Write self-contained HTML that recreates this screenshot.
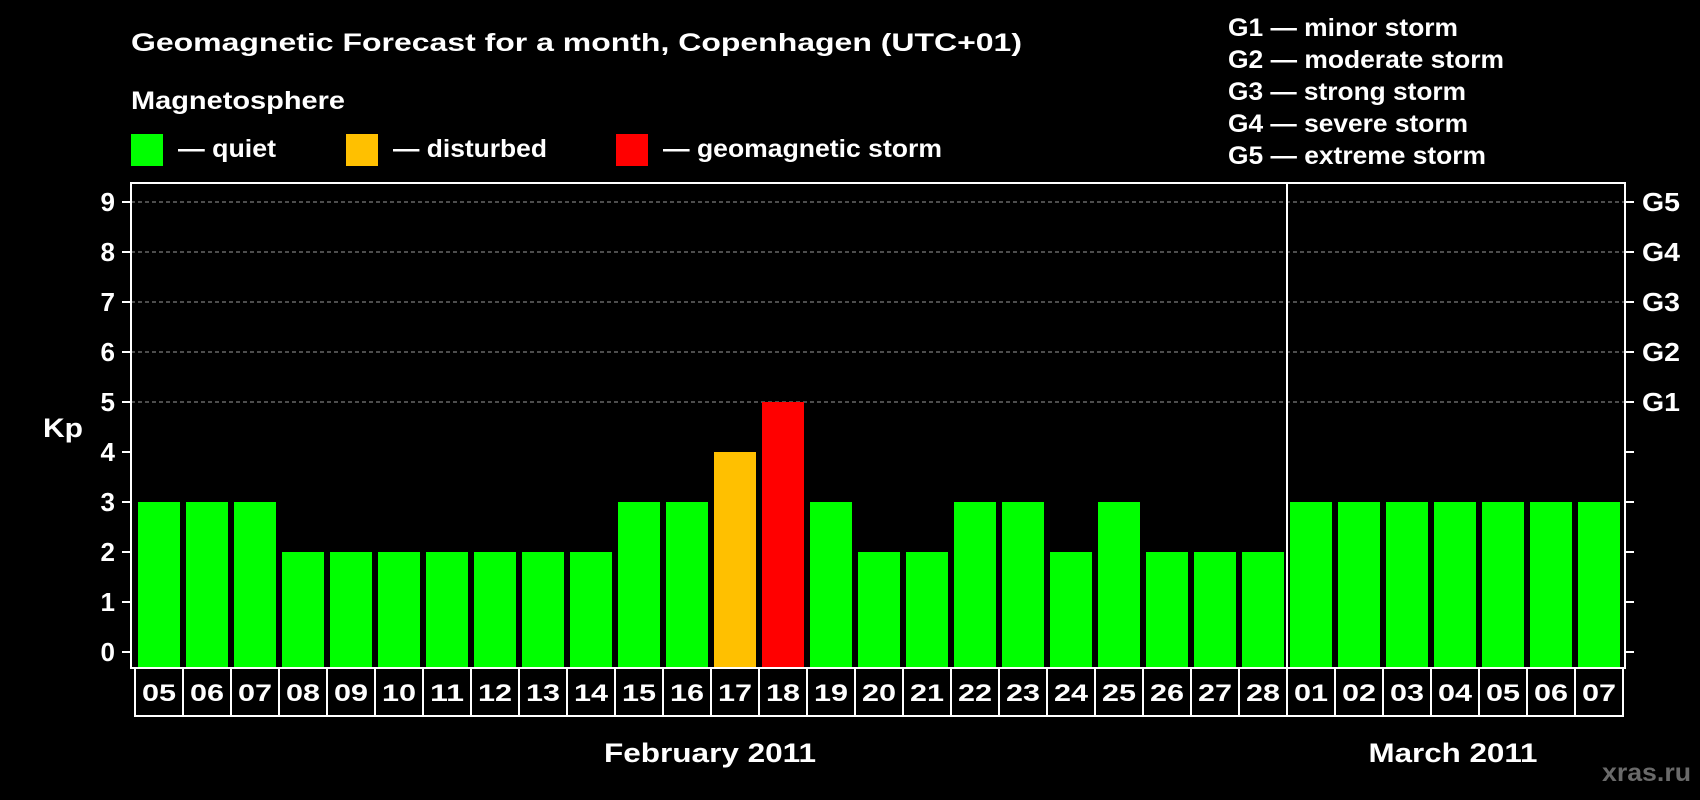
<!DOCTYPE html>
<html><head><meta charset="utf-8"><style>
html,body{margin:0;padding:0;background:#000;}
svg{display:block;font-family:"Liberation Sans",Arial,sans-serif;font-weight:bold;}
</style></head><body>
<svg id="chart" width="1700" height="800" viewBox="0 0 1700 800">
<rect x="0" y="0" width="1700" height="800" fill="#000"/>
<text x="131" y="51" fill="#fff" font-size="25" textLength="891" lengthAdjust="spacingAndGlyphs">Geomagnetic Forecast for a month, Copenhagen (UTC+01)</text>
<text x="131" y="109" fill="#fff" font-size="25" textLength="214" lengthAdjust="spacingAndGlyphs">Magnetosphere</text>
<g><rect x="131" y="134" width="32" height="32" fill="#00ff00"/><text x="178" y="157" fill="#fff" font-size="25" textLength="98" lengthAdjust="spacingAndGlyphs">— quiet</text></g>
<g><rect x="346" y="134" width="32" height="32" fill="#ffc000"/><text x="393" y="157" fill="#fff" font-size="25" textLength="154" lengthAdjust="spacingAndGlyphs">— disturbed</text></g>
<g><rect x="616" y="134" width="32" height="32" fill="#ff0000"/><text x="663" y="157" fill="#fff" font-size="25" textLength="279" lengthAdjust="spacingAndGlyphs">— geomagnetic storm</text></g>
<g fill="#fff" font-size="25">
<text x="1228" y="36" textLength="230" lengthAdjust="spacingAndGlyphs">G1 — minor storm</text>
<text x="1228" y="68" textLength="276" lengthAdjust="spacingAndGlyphs">G2 — moderate storm</text>
<text x="1228" y="100" textLength="238" lengthAdjust="spacingAndGlyphs">G3 — strong storm</text>
<text x="1228" y="132" textLength="240" lengthAdjust="spacingAndGlyphs">G4 — severe storm</text>
<text x="1228" y="164" textLength="258" lengthAdjust="spacingAndGlyphs">G5 — extreme storm</text>
</g>
<text x="43" y="437" fill="#fff" font-size="27" textLength="40" lengthAdjust="spacingAndGlyphs">Kp</text>
<g id="grid"></g><g id="bars"></g><g id="axes"></g>
<text x="710" y="762" fill="#fff" font-size="27" text-anchor="middle" textLength="212" lengthAdjust="spacingAndGlyphs">February 2011</text>
<text x="1453" y="762" fill="#fff" font-size="27" text-anchor="middle" textLength="169" lengthAdjust="spacingAndGlyphs">March 2011</text>
<text x="1691" y="781" fill="#6a6a6a" font-size="25" text-anchor="end" textLength="89" lengthAdjust="spacingAndGlyphs">xras.ru</text>
</svg>
<script>
const days = ["05","06","07","08","09","10","11","12","13","14","15","16","17","18","19","20","21","22","23","24","25","26","27","28","01","02","03","04","05","06","07"];
const kpValues = [3,3,3,2,2,2,2,2,2,2,3,3,4,5,3,2,2,3,3,2,3,2,2,2,3,3,3,3,3,3,3];
const yTicks = [0,1,2,3,4,5,6,7,8,9];
const gLabels = ["G1","G2","G3","G4","G5"];
const gLevels = [5,6,7,8,9];
const marchStartIndex = 24;

(function(){
const NS = "http://www.w3.org/2000/svg";
const pLeft = 131, pRight = 1625, pTop = 183, pBottom = 668;
const y0 = 652, unit = 50, x0 = 138, pitch = 48, barW = 42;
const yScale = v => y0 - v * unit;
const xScale = i => x0 + i * pitch;
function mk(tag, attrs, parent){const e=document.createElementNS(NS,tag);for(const k in attrs)e.setAttribute(k,attrs[k]);parent.appendChild(e);return e;}
const grid=document.getElementById("grid"), bars=document.getElementById("bars"), axes=document.getElementById("axes");

gLevels.forEach((lv)=>{
  const l=mk("line",{x1:pLeft,x2:pRight,y1:yScale(lv),y2:yScale(lv),stroke:"#9a9a9a","stroke-width":1,"stroke-dasharray":"4,3"},grid);
  
  
});
kpValues.forEach((v,i)=>{
  const c = v>=5?"#ff0000":(v>=4?"#ffc000":"#00ff00");
  const r=mk("rect",{x:xScale(i),y:yScale(v),width:barW,height:pBottom-yScale(v),fill:c},bars);
  
  
});
const frame=mk("rect",{x:pLeft,y:pTop,width:pRight-pLeft,height:pBottom-pTop,fill:"none",stroke:"#fff","stroke-width":2},axes);


const dx=(xScale(marchStartIndex-1)+barW+xScale(marchStartIndex))/2;
const div=mk("line",{x1:dx,x2:dx,y1:pTop,y2:pBottom,stroke:"#fff","stroke-width":2},axes);


yTicks.forEach(t=>{
  mk("line",{x1:pLeft-9,x2:pLeft,y1:yScale(t),y2:yScale(t),stroke:"#fff","stroke-width":2},axes);
  mk("line",{x1:pRight,x2:pRight+9,y1:yScale(t),y2:yScale(t),stroke:"#fff","stroke-width":2},axes);
  const tx=mk("text",{x:pLeft-16,y:yScale(t)+9,fill:"#fff","font-size":26,"text-anchor":"end"},axes);
  tx.textContent=t;
  
  
});
gLabels.forEach((g,i)=>{
  const tx=mk("text",{x:pRight+17,y:yScale(gLevels[i])+9,fill:"#fff","font-size":26,textLength:38,lengthAdjust:"spacingAndGlyphs"},axes);
  tx.textContent=g;
  
  
});
days.forEach((d,i)=>{
  const cx=xScale(i)-3;
  const r=mk("rect",{x:cx,y:pBottom,width:pitch,height:48,fill:"none",stroke:"#fff","stroke-width":2},axes);
  
  
  const tx=mk("text",{x:cx+pitch/2,y:pBottom+33,fill:"#fff","font-size":24,"text-anchor":"middle",textLength:34,lengthAdjust:"spacingAndGlyphs"},axes);
  tx.textContent=d;
  
  
});
})();
</script>
</body></html>
